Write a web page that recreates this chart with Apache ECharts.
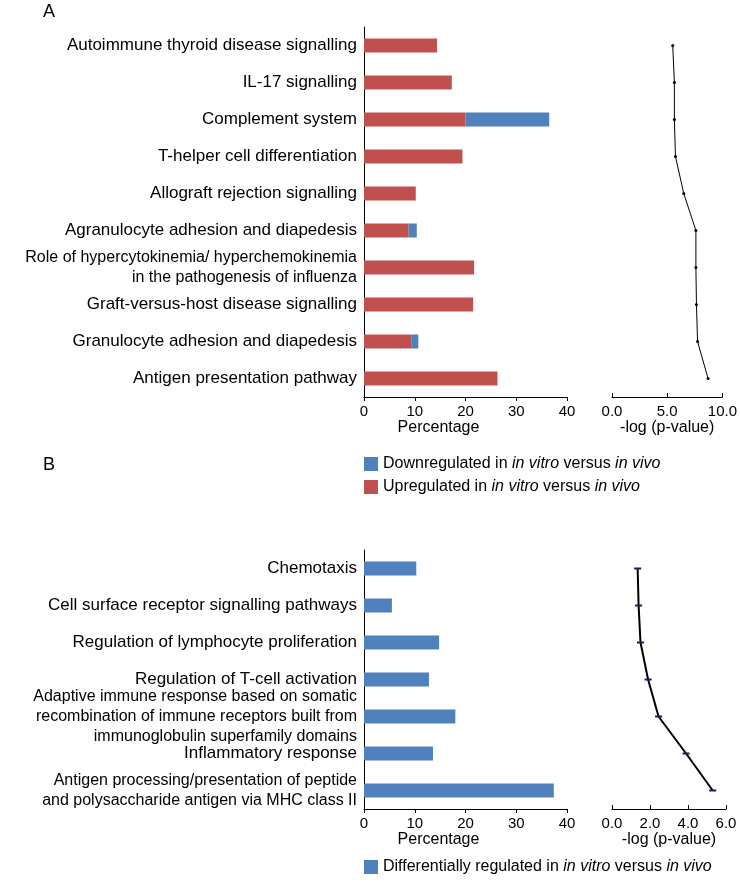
<!DOCTYPE html>
<html>
<head>
<meta charset="utf-8">
<script src="https://cdn.jsdelivr.net/npm/echarts@6/dist/echarts.min.js"></script>
<style>
html,body{margin:0;padding:0;background:#fff;}
#c{width:740px;height:885px;}
</style>
</head>
<body>
<div id="c"></div>
<script>
// ---------- Data ----------
const catsA = [
  'Autoimmune thyroid disease signalling',
  'IL-17 signalling',
  'Complement system',
  'T-helper cell differentiation',
  'Allograft rejection signalling',
  'Agranulocyte adhesion and diapedesis',
  'Role of hypercytokinemia/ hyperchemokinemia\nin the pathogenesis of influenza',
  'Graft-versus-host disease signalling',
  'Granulocyte adhesion and diapedesis',
  'Antigen presentation pathway'
];
const upA   = [14.4, 17.3, 20.0, 19.4, 10.2, 8.8, 21.7, 21.5, 9.3, 26.3];
const downA = [0, 0, 16.5, 0, 0, 1.6, 0, 0, 1.4, 0];
const logpA = [5.5, 5.65, 5.65, 5.75, 6.5, 7.6, 7.6, 7.65, 7.75, 8.7];

const catsB = [
  'Chemotaxis',
  'Cell surface receptor signalling pathways',
  'Regulation of lymphocyte proliferation',
  'Regulation of T-cell activation',
  'Adaptive immune response based on somatic\nrecombination of immune receptors built from\nimmunoglobulin superfamily domains',
  'Inflammatory response',
  'Antigen processing/presentation of peptide\nand polysaccharide antigen via MHC class II'
];
const diffB = [10.3, 5.5, 14.8, 12.8, 18.0, 13.6, 37.4];
const logpB = [1.35, 1.4, 1.5, 1.9, 2.45, 3.9, 5.3];

const pctTicks = [0, 40, 10];
const logTicksA = [0, 10, 5];
const logTicksB = [0, 6, 2];

const nameDown = 'Downregulated';
const nameUp = 'Upregulated';
const nameDiff = 'Differentially regulated';

// ---------- Chart ----------
const FONT = '"Liberation Sans", Arial, sans-serif';
const RED = '#c0504d';
const BLUE = '#4f81bd';
const chart = echarts.init(document.getElementById('c'), null, {renderer: 'canvas'});

function catAxis(gi, data, showLabels) {
  return {
    type: 'category', gridIndex: gi, data: data, inverse: true,
    show: true,
    axisLine: {show: showLabels, lineStyle: {color: '#000', width: 1}},
    axisTick: {show: false},
    axisLabel: showLabels ? {
      show: true, color: '#000', fontFamily: FONT, fontSize: 17, margin: 7, lineHeight: 20,
      formatter: v => v.indexOf('\n') >= 0
        ? v.split('\n').map(s => '{m|' + s + '}').join('\n')
        : '{s|' + v + '}',
      rich: {
        s: {fontFamily: FONT, fontSize: 17, color: '#000', lineHeight: 20},
        m: {fontFamily: FONT, fontSize: 16, color: '#000', lineHeight: 20}
      }
    } : {show: false}
  };
}
function valAxis(gi, t, name, decimals, tickInside, nameShift) {
  return {
    type: 'value', gridIndex: gi, min: t[0], max: t[1], interval: t[2],
    splitLine: {show: false},
    axisLine: {show: true, lineStyle: {color: '#000', width: 1}},
    axisTick: {show: true, inside: tickInside, length: 4, lineStyle: {color: '#000'}},
    axisLabel: {
      color: '#000', fontFamily: FONT, fontSize: 15, margin: 7,
      formatter: v => decimals ? v.toFixed(1) : String(v)
    },
    name: name, nameLocation: 'middle', nameGap: 23,
    nameTextStyle: {color: '#000', fontFamily: FONT, fontSize: 16,
      padding: nameShift ? [0, nameShift * 2, 0, 0] : 0}
  };
}
const legendRich = {
  n: {fontFamily: FONT, fontSize: 16, color: '#000'},
  i: {fontFamily: FONT, fontSize: 16, color: '#000', fontStyle: 'italic'}
};
function legendFmt(name) {
  const lead = name === nameDown ? 'Downregulated' : name === nameUp ? 'Upregulated' : 'Differentially regulated';
  return '{n|' + lead + ' in }{i|in vitro}{n| versus }{i|in vivo}';
}

const option = {
  animation: false,
  backgroundColor: '#fff',
  textStyle: {fontFamily: FONT},
  title: [
    {text: 'A', left: 43, top: 3, padding: 0, textStyle: {fontFamily: FONT, fontSize: 18, fontWeight: 'normal', color: '#000'}},
    {text: 'B', left: 43, top: 456, padding: 0, textStyle: {fontFamily: FONT, fontSize: 18, fontWeight: 'normal', color: '#000'}}
  ],
  legend: [
    {
      data: [nameDown, nameUp], orient: 'vertical', left: 364, top: 456, padding: 0,
      icon: 'rect', itemWidth: 14, itemHeight: 14, itemGap: 7,
      formatter: legendFmt, textStyle: {rich: legendRich}
    },
    {
      data: [nameDiff], orient: 'vertical', left: 364, top: 859, padding: 0,
      icon: 'rect', itemWidth: 14, itemHeight: 14,
      formatter: legendFmt, textStyle: {rich: legendRich}
    }
  ],
  grid: [
    {left: 364, top: 27, width: 203, height: 370},
    {left: 612, top: 27, width: 114, height: 370},
    {left: 364, top: 550, width: 203, height: 259},
    {left: 612, top: 550, width: 114, height: 259}
  ],
  xAxis: [
    valAxis(0, pctTicks, 'Percentage', false, false, 27),
    valAxis(1, logTicksA, '-log (p-value)', true, true, 0),
    valAxis(2, pctTicks, 'Percentage', false, false, 27),
    valAxis(3, logTicksB, '-log (p-value)', true, true, 0)
  ],
  yAxis: [
    catAxis(0, catsA, true),
    catAxis(1, catsA, false),
    catAxis(2, catsB, true),
    catAxis(3, catsB, false)
  ],
  series: [
    {name: nameUp, type: 'bar', stack: 'a', xAxisIndex: 0, yAxisIndex: 0, data: upA,
     barWidth: 14, itemStyle: {color: RED}},
    {name: nameDown, type: 'bar', stack: 'a', xAxisIndex: 0, yAxisIndex: 0, data: downA,
     barWidth: 14, itemStyle: {color: BLUE}},
    {name: 'logA', type: 'line', xAxisIndex: 1, yAxisIndex: 1, data: logpA,
     symbol: 'circle', symbolSize: 3, lineStyle: {color: '#000', width: 1},
     itemStyle: {color: '#000'}},
    {name: nameDiff, type: 'bar', xAxisIndex: 2, yAxisIndex: 2, data: diffB,
     barWidth: 14, itemStyle: {color: BLUE}},
    {name: 'logB', type: 'line', xAxisIndex: 3, yAxisIndex: 3, data: logpB,
     symbol: 'rect', symbolSize: [7, 2], lineStyle: {color: '#000', width: 2},
     itemStyle: {color: '#1f1f5a'}}
  ]
};
chart.setOption(option);
</script>
</body>
</html>
